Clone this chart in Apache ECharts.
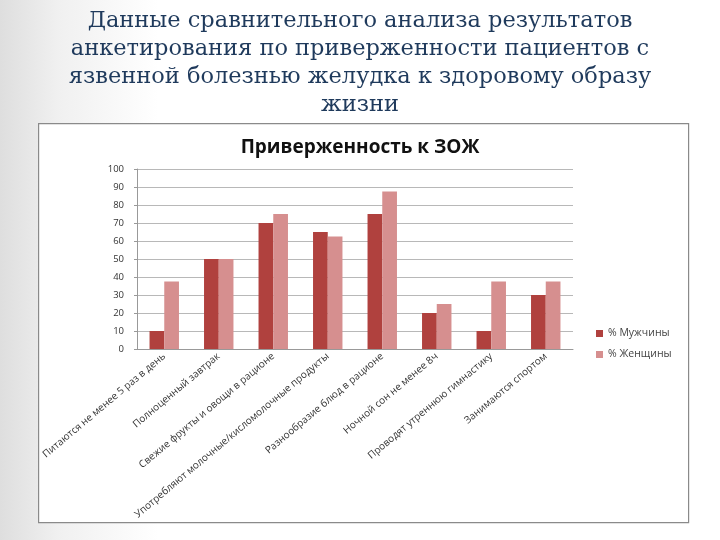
<!DOCTYPE html>
<html>
<head>
<meta charset="utf-8">
<script src="https://cdn.jsdelivr.net/npm/echarts@6/dist/echarts.min.js"></script>
<style>html,body{margin:0;padding:0;background:#fff;}#c{width:720px;height:540px;}</style>
</head>
<body>
<div id="c"></div>
<script>
const categories = [
  "Питаются не менее 5 раз в день",
  "Полноценный завтрак",
  "Свежие фрукты и овощи в рационе",
  "Употребляют молочные/кисломолочные продукты",
  "Разнообразие блюд в рационе",
  "Ночной сон не менее 8ч",
  "Проводят утреннюю гимнастику",
  "Занимаются спортом"
];
const men = [10, 50, 70, 65, 75, 20, 10, 30];
const women = [37.5, 50, 75, 62.5, 87.5, 25, 37.5, 37.5];
const seriesNames = ["% Мужчины", "% Женщины"];
const slideTitle = [
  "Данные сравнительного анализа результатов",
  "анкетирования по приверженности пациентов с",
  "язвенной болезнью желудка к здоровому образу",
  "жизни"
];
const chartTitle = "Приверженность к ЗОЖ";

const chart = echarts.init(document.getElementById('c'));
const titleGraphics = slideTitle.map((t, i) => ({
  type: 'text', left: 'center', top: 10 + i * 28, z: 10,
  style: { text: t, fill: '#1f3a5c', font: '22.5px "DejaVu Serif"' }
}));
chart.setOption({
  backgroundColor: '#fff',
  graphic: [
    { type: 'rect', left: 0, top: 0, z: -10, shape: { width: 720, height: 540 },
      style: { fill: new echarts.graphic.LinearGradient(0, 0, 1, 0, [
        { offset: 0, color: '#dedede' }, { offset: 0.08, color: '#f0f0f0' }, { offset: 0.22, color: '#ffffff' }, { offset: 1, color: '#ffffff' }]) } },
    { type: 'rect', left: 38, top: 123, z: -5, shape: { width: 650, height: 399 },
      style: { fill: '#fff', stroke: '#8a8a8a', lineWidth: 1.2 } },
    ...titleGraphics
  ],
  title: {
    text: chartTitle, left: 'center', top: 133,
    textStyle: { fontFamily: 'Open Sans', fontWeight: 'bold', fontSize: 19, color: '#111' }
  },
  legend: {
    orient: 'vertical', left: 591, top: 323, itemWidth: 7, itemHeight: 7, itemGap: 10,
    icon: 'rect', textStyle: { fontFamily: 'Open Sans', fontSize: 10.5, color: '#444' },
    data: seriesNames
  },
  grid: { left: 137, right: 147, top: 169, bottom: 191 },
  xAxis: {
    type: 'category', data: categories,
    axisLine: { lineStyle: { color: '#999' } },
    axisTick: { show: false },
    axisLabel: { interval: 0, rotate: 40, fontFamily: 'Open Sans', fontSize: 10, color: '#333', margin: 6 }
  },
  yAxis: {
    type: 'value', min: 0, max: 100, interval: 10,
    axisLine: { show: true, lineStyle: { color: '#999' } },
    axisTick: { show: true, length: 3, lineStyle: { color: '#999' } },
    axisLabel: { fontFamily: 'Open Sans', fontSize: 9.5, color: '#333', margin: 13 },
    splitLine: { lineStyle: { color: '#b8b8b8', width: 1 } }
  },
  series: [
    { name: seriesNames[0], type: 'bar', data: men, barGap: '0%', barCategoryGap: '46%',
      itemStyle: { color: '#B0413E' } },
    { name: seriesNames[1], type: 'bar', data: women,
      itemStyle: { color: '#D68F8F' } }
  ]
});
</script>
</body>
</html>
